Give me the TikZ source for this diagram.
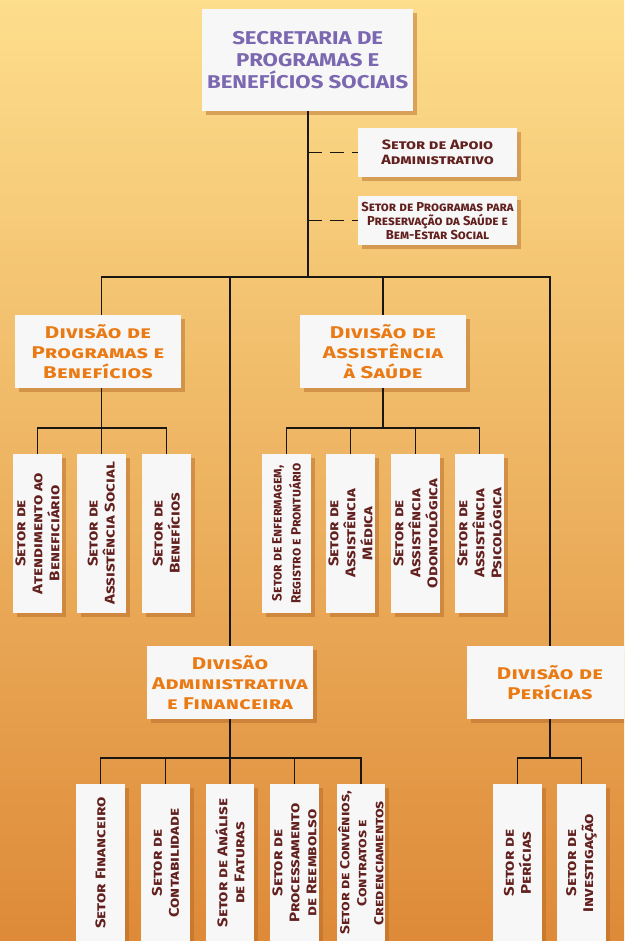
\documentclass[tikz,border=0pt]{standalone}
\usepackage{fontspec}
\setmainfont{Fira Sans}
\newfontfamily\fonteTitulo[FakeStretch=1.2]{Fira Sans}
\newfontfamily\fonteDivisao[FakeStretch=1.3, LetterSpace=2]{Fira Sans}
\newfontfamily\fonteSetor[FakeStretch=1.2]{Fira Sans}
\usetikzlibrary{shadows}

\definecolor{corTitulo}{RGB}{124,104,176}
\definecolor{corDivisao}{RGB}{234,122,20}
\definecolor{corSetor}{RGB}{98,32,30}
\definecolor{corCaixa}{RGB}{247,247,247}
\definecolor{corSombra}{RGB}{176,100,36}
\definecolor{corLinha}{RGB}{26,22,18}
\definecolor{fundoTopo}{RGB}{253,222,140}
\definecolor{fundoMeio}{RGB}{245,196,104}
\definecolor{fundoBase}{RGB}{222,138,56}

\tikzset{
        caixa/.style={fill=corCaixa, inner sep=0pt, align=center,
                drop shadow={shadow xshift=4pt, shadow yshift=-4pt, fill=corSombra, opacity=0.45}},
        secretaria/.style={caixa, minimum width=211pt, minimum height=102pt, text=corTitulo,
                font=\fonteTitulo\fontsize{18.5}{22}\selectfont\bfseries},
        divisao/.style={caixa, minimum width=166pt, minimum height=73pt, text=corDivisao,
                font=\fonteDivisao\fontsize{17}{20}\selectfont\bfseries\scshape},
        apoio/.style={caixa, minimum width=159pt, minimum height=49pt, text=corSetor,
                font=\fonteSetor\fontsize{13.5}{15}\selectfont\bfseries\scshape},
        setor/.style={caixa, rotate=90, minimum width=158.5pt, minimum height=48.5pt, text=corSetor,
                font=\fonteSetor\fontsize{14}{17}\selectfont\bfseries\scshape},
        ligacao/.style={line width=1.6pt, draw=corLinha},
        tracejado/.style={ligacao, dash pattern=on 14pt off 8pt}
}

\begin{document}
\begin{tikzpicture}[x=1pt, y=-1pt]
        \useasboundingbox (0,0) rectangle (624,941);
        \clip (0,0) rectangle (624,941);
        \shade [top color=fundoTopo, middle color=fundoMeio, bottom color=fundoBase] (0,0) rectangle (624,941);

        % secretaria e setores de apoio
        \node [secretaria] (sec) at (307.7,60) {SECRETARIA DE\\PROGRAMAS E\\BENEFÍCIOS SOCIAIS};
        \node [apoio] (apo) at (437.5,152.5) {Setor de Apoio\\Administrativo};
        \node [apoio, font=\fontsize{13}{14}\selectfont\bfseries\scshape] (pps) at (437.5,220.5) {Setor de Programas para\\Preservação da Saúde e\\Bem-Estar Social};

        % divisoes
        \node [divisao] (dpb) at (98,351.5) {Divisão de\\Programas e\\Benefícios};
        \node [divisao] (das) at (383,351.5) {Divisão de\\Assistência\\à Saúde};
        \node [divisao] (dad) at (230,682.3) {Divisão\\Administrativa\\e Financeira};
        \node [divisao] (dpe) at (550,682.3) {Divisão de\\Perícias};

        % setores
        \node [setor] (sp1) at (37.5,533.4) {Setor de\\Atendimento ao\\Beneficiário};
        \node [setor] (sp2) at (101.3,533.4) {Setor de\\Assistência Social};
        \node [setor] (sp3) at (166.3,533.4) {Setor de\\Benefícios};
        \node [setor, font=\fontsize{13.5}{19}\selectfont\bfseries\scshape] (sa1) at (286.5,533.4) {Setor de Enfermagem,\\Registro e Prontuário};
        \node [setor] (sa2) at (350.5,533.4) {Setor de\\Assistência\\Médica};
        \node [setor] (sa3) at (415.5,533.4) {Setor de\\Assistência\\Odontológica};
        \node [setor] (sa4) at (479.5,533.4) {Setor de\\Assistência\\Psicológica};
        \node [setor] (sd1) at (100.5,863) {Setor Financeiro};
        \node [setor] (sd2) at (165.5,863) {Setor de\\Contabilidade};
        \node [setor] (sd3) at (230,863) {Setor de Análise\\de Faturas};
        \node [setor] (sd4) at (294.5,863) {Setor de\\Processamento\\de Reembolso};
        \node [setor, font=\fonteSetor\fontsize{13}{17}\selectfont\bfseries\scshape] (sd5) at (361,863) {Setor de Convênios,\\Contratos e\\Credenciamentos};
        \node [setor] (sr1) at (517.5,863) {Setor de\\Perícias};
        \node [setor] (sr2) at (581.5,863) {Setor de\\Investigação};

        % ligacoes
        \coordinate (barra) at (307.7,277);
        \coordinate (barraP) at (101.3,427.7);
        \coordinate (barraA) at (383,427.7);
        \coordinate (barraD) at (230,757.7);
        \coordinate (barraR) at (550,757.7);
        \draw [ligacao] (sec.south) -- (barra);
        \draw [tracejado] (sec.south |- apo.west) -- (apo.west);
        \draw [tracejado] (sec.south |- pps.west) -- (pps.west);
        \draw [ligacao] (dpb.north -| barraP) |- (barra) -| (dpe.north);
        \draw [ligacao] (das.north) |- (barra);
        \draw [ligacao] (dad.north) |- (barra);

        \draw [ligacao] (dpb.south -| barraP) -- (barraP);
        \draw [ligacao] (sp1.east) |- (barraP) -| (sp3.east);
        \draw [ligacao] (sp2.east) -- (barraP);

        \draw [ligacao] (das.south) -- (barraA);
        \draw [ligacao] (sa1.east) |- (barraA) -| (sa4.east);
        \draw [ligacao] (sa2.east) |- (barraA);
        \draw [ligacao] (sa3.east) |- (barraA);

        \draw [ligacao] (dad.south) -- (barraD);
        \draw [ligacao] (sd1.east) |- (barraD) -| (sd5.east);
        \draw [ligacao] (sd2.east) |- (barraD);
        \draw [ligacao] (sd3.east) -- (barraD);
        \draw [ligacao] (sd4.east) |- (barraD);

        \draw [ligacao] (dpe.south) -- (barraR);
        \draw [ligacao] (sr1.east) |- (barraR) -| (sr2.east);
\end{tikzpicture}
\end{document}
